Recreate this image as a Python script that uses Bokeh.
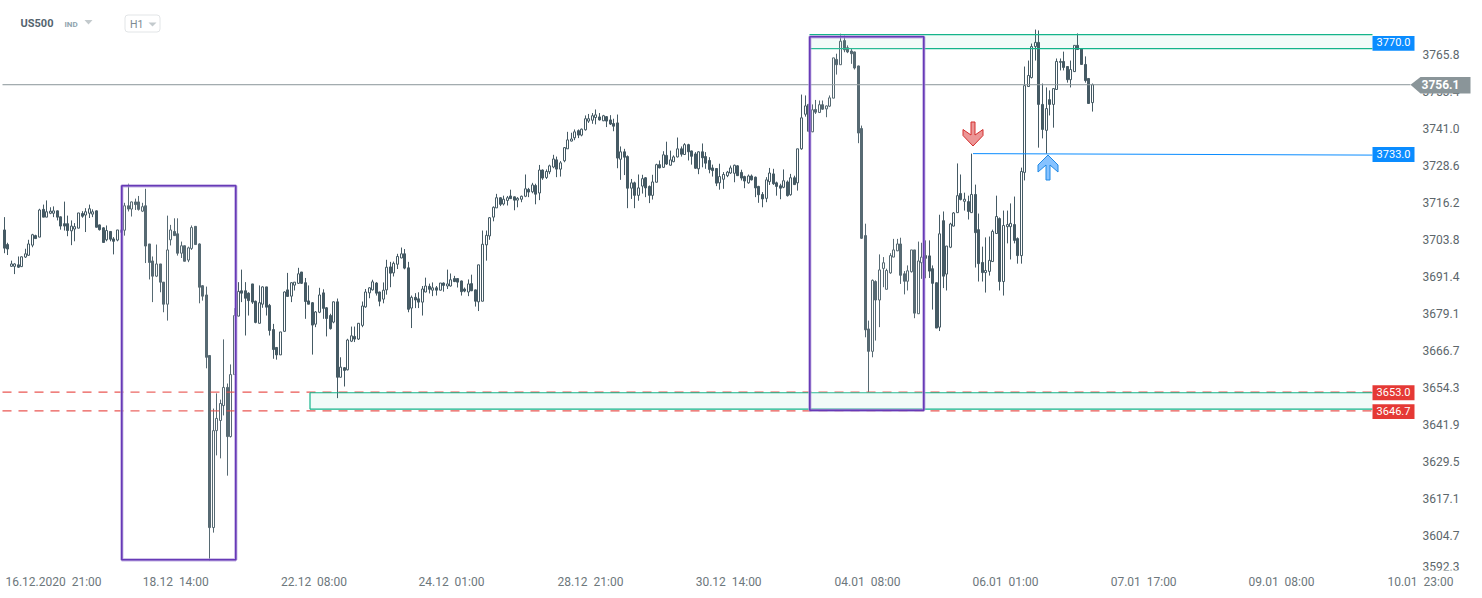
import numpy as np
from bokeh.core.properties import value
from bokeh.embed import file_html
from bokeh.models import BoxAnnotation, FixedTicker, LinearAxis, Range1d
from bokeh.plotting import figure
from bokeh.resources import INLINE

symbol = "US500"
symbol_kind = "IND"
timeframe = "H1"
last_price = 3756.1
level_labels = ["3770.0", "3733.0", "3653.0", "3646.7"]
y_tick_values = [3765.8, 3753.4, 3741.0, 3728.6, 3716.2, 3703.8, 3691.4, 3679.1, 3666.7,
                 3654.3, 3641.9, 3629.5, 3617.1, 3604.7]
x_tick_bars = [13.8, 48.3, 87.3, 126.1, 165.3, 204.3, 243.5, 282.4, 321.4, 360.3, 399.5]
x_tick_labels = ["16.12.2020\u00a0\u00a021:00", "18.12\u00a0\u00a014:00", "22.12\u00a0\u00a008:00", "24.12\u00a0\u00a001:00",
                 "28.12\u00a0\u00a021:00", "30.12\u00a0\u00a014:00", "04.01\u00a0\u00a008:00", "06.01\u00a0\u00a001:00",
                 "07.01\u00a0\u00a017:00", "09.01\u00a0\u00a008:00", "10.01\u00a0\u00a023:00"]

# F = falling (filled), H = rising (hollow)
direction = ("FFHHFHHHHF" "HFHHHFFFFH" "HHFHHHFFFH" "FFHFHFHFFH" "FFFHFFHHFF" "HFHHFFFFFH"
             "HHHFHHHFFF" "FFHHFFFFHH" "FHHHFFFFHH" "FFFHFHFHHF" "HHHHHFFHHF" "HHHFFHFFHH"
             "FHFHFHHFFF" "FHFFHHHHHH" "FHHFFHHHFH" "FHFHHHFHHH" "HHFHHHHHFH" "FFFFHFFHFH"
             "HFFHHFHFHH" "HFHFFFHFFF" "FFHHHHHFFF" "HFFFFHHFFF" "HFHFHHHFHF" "HFHHHFHFFF"
             "FFFFFHFHHH" "HHHFFHHFHH" "FFFFHFHHHH" "FHFHFFFHHH" "HFHHHFFHHH" "HHFFHFHHHF"
             "FHHFFFFH")

highs = [3711.7, 3703.1, 3697.1, 3696.2, 3698.5, 3698.5, 3701.1, 3704.1, 3706.1, 3705.8,
         3714.5, 3715.9, 3717.3, 3715.0, 3715.3, 3713.9, 3711.9, 3716.9, 3712.2, 3710.6,
         3709.7, 3713.1, 3713.7, 3714.7, 3715.9, 3714.3, 3713.9, 3709.2, 3708.3, 3708.9,
         3706.9, 3705.0, 3707.4, 3709.5, 3716.5, 3722.9, 3716.9, 3717.9, 3718.8, 3716.5,
         3721.2, 3702.7, 3698.5, 3702.5, 3696.0, 3689.9, 3712.2, 3709.1, 3711.3, 3711.3,
         3703.5, 3702.1, 3701.8, 3708.9, 3708.6, 3702.9, 3688.8, 3688.4, 3665.3, 3647.5,
         3652.6, 3650.5, 3670.7, 3655.9, 3662.3, 3681.2, 3689.9, 3694.1, 3689.9, 3686.5,
         3689.3, 3683.7, 3688.8, 3688.5, 3688.3, 3682.6, 3675.9, 3668.1, 3673.2, 3686.8,
         3693.0, 3689.9, 3689.9, 3694.7, 3693.3, 3691.3, 3688.8, 3683.2, 3680.2, 3688.0,
         3687.5, 3681.5, 3679.3, 3683.4, 3684.4, 3664.7, 3661.4, 3670.9, 3675.0, 3675.0,
         3676.2, 3683.4, 3687.6, 3688.2, 3690.7, 3689.9, 3686.7, 3689.8, 3697.4, 3696.7,
         3696.8, 3699.4, 3701.5, 3701.0, 3696.7, 3685.4, 3686.2, 3686.5, 3688.6, 3691.4,
         3689.4, 3689.8, 3688.6, 3689.6, 3689.8, 3694.1, 3692.8, 3692.0, 3691.2, 3690.4,
         3688.1, 3690.8, 3692.4, 3687.4, 3695.7, 3707.2, 3707.2, 3711.7, 3715.3, 3719.5,
         3718.3, 3718.9, 3718.8, 3720.9, 3718.6, 3718.4, 3718.9, 3726.0, 3721.5, 3723.2,
         3722.9, 3729.2, 3727.7, 3727.7, 3729.3, 3732.6, 3732.0, 3730.5, 3735.2, 3740.3,
         3740.0, 3741.1, 3741.1, 3741.4, 3745.8, 3746.3, 3746.6, 3747.8, 3746.6, 3746.0,
         3745.6, 3745.9, 3744.7, 3746.1, 3735.4, 3734.6, 3732.4, 3724.5, 3723.6, 3726.0,
         3725.9, 3725.1, 3722.3, 3725.9, 3729.6, 3730.7, 3733.8, 3737.0, 3734.0, 3732.4,
         3738.4, 3735.4, 3736.5, 3736.3, 3734.0, 3733.5, 3733.8, 3736.4, 3733.5, 3731.8,
         3729.3, 3728.1, 3729.6, 3726.8, 3727.2, 3729.0, 3729.3, 3729.1, 3727.6, 3725.6,
         3726.0, 3726.0, 3725.3, 3722.2, 3720.1, 3725.1, 3728.2, 3727.9, 3723.6, 3722.9,
         3727.7, 3724.0, 3726.2, 3725.6, 3734.6, 3752.8, 3752.5, 3749.7, 3749.5, 3751.0,
         3750.8, 3750.8, 3749.1, 3752.5, 3765.1, 3766.5, 3773.2, 3772.6, 3769.3, 3768.1,
         3767.2, 3762.5, 3742.4, 3709.5, 3677.0, 3690.8, 3690.5, 3699.2, 3698.3, 3694.4,
         3699.6, 3704.4, 3704.4, 3704.8, 3693.6, 3695.5, 3700.7, 3700.7, 3703.5, 3703.1,
         3703.9, 3703.9, 3695.5, 3689.7, 3712.5, 3713.6, 3702.0, 3709.8, 3713.4, 3729.7,
         3726.0, 3719.9, 3718.9, 3733.0, 3722.6, 3712.9, 3701.8, 3704.9, 3705.2, 3707.5,
         3718.9, 3711.6, 3713.9, 3713.9, 3716.3, 3718.6, 3704.9, 3728.3, 3762.2, 3764.2,
         3769.9, 3774.6, 3774.3, 3756.5, 3755.2, 3754.2, 3754.8, 3764.9, 3764.9, 3767.2,
         3762.2, 3764.2, 3769.3, 3773.3, 3768.2, 3765.6, 3758.2, 3756.5]

body_tops = [3707.4, 3702.5, 3696.0, 3696.0, 3695.7, 3698.4, 3699.4, 3702.7, 3705.8, 3705.5,
             3714.1, 3714.3, 3713.5, 3713.7, 3713.8, 3713.8, 3711.8, 3709.5, 3709.5, 3708.7,
             3708.5, 3713.1, 3712.9, 3713.5, 3714.5, 3713.5, 3713.8, 3709.1, 3708.1, 3707.2,
             3706.9, 3704.4, 3707.4, 3707.4, 3715.5, 3715.5, 3716.8, 3716.8, 3716.8, 3715.2,
             3715.5, 3702.7, 3697.0, 3696.0, 3696.0, 3689.9, 3700.7, 3707.4, 3706.9, 3706.1,
             3702.1, 3702.1, 3701.4, 3708.2, 3708.6, 3702.7, 3688.7, 3685.6, 3665.3, 3640.1,
             3644.2, 3649.2, 3654.6, 3654.6, 3658.9, 3678.7, 3686.8, 3687.0, 3687.0, 3686.2,
             3689.3, 3683.5, 3683.0, 3688.3, 3688.3, 3682.1, 3674.0, 3668.0, 3673.2, 3686.6,
             3687.3, 3689.7, 3689.9, 3692.7, 3693.3, 3689.7, 3683.6, 3683.0, 3679.9, 3685.6,
             3686.3, 3681.3, 3678.7, 3683.3, 3683.3, 3661.4, 3661.2, 3670.5, 3671.9, 3671.7,
             3676.1, 3681.9, 3686.6, 3688.0, 3690.0, 3689.6, 3686.6, 3687.2, 3694.9, 3695.0,
             3696.2, 3698.5, 3699.4, 3699.4, 3694.7, 3684.8, 3684.8, 3684.3, 3687.6, 3688.6,
             3688.5, 3688.0, 3688.0, 3689.6, 3689.6, 3689.3, 3690.7, 3691.1, 3691.1, 3690.3,
             3687.6, 3689.3, 3689.4, 3687.3, 3695.7, 3702.6, 3705.6, 3711.5, 3715.0, 3718.2,
             3718.2, 3717.7, 3718.2, 3718.8, 3718.5, 3718.0, 3718.7, 3721.2, 3721.0, 3722.5,
             3722.3, 3727.5, 3727.5, 3727.0, 3728.9, 3731.2, 3730.9, 3729.9, 3735.0, 3737.6,
             3737.9, 3740.3, 3740.7, 3741.2, 3744.7, 3744.7, 3745.7, 3746.0, 3745.3, 3745.7,
             3745.4, 3744.3, 3743.1, 3743.3, 3733.6, 3733.6, 3732.0, 3723.2, 3723.2, 3721.5,
             3724.6, 3724.9, 3722.0, 3723.5, 3729.3, 3729.3, 3732.6, 3732.4, 3730.9, 3731.9,
             3734.6, 3734.6, 3736.0, 3736.0, 3733.9, 3732.9, 3733.6, 3733.6, 3732.0, 3730.7,
             3728.2, 3728.0, 3725.3, 3726.0, 3726.8, 3728.2, 3729.1, 3728.9, 3726.7, 3725.3,
             3725.5, 3725.5, 3725.1, 3722.0, 3719.3, 3724.2, 3726.5, 3726.2, 3723.2, 3722.2,
             3723.9, 3723.5, 3724.9, 3724.9, 3734.6, 3745.0, 3749.0, 3749.5, 3747.7, 3747.8,
             3749.4, 3749.4, 3749.0, 3751.7, 3765.1, 3764.6, 3770.7, 3770.9, 3768.5, 3767.4,
             3767.1, 3762.4, 3741.4, 3705.5, 3674.2, 3690.5, 3690.1, 3694.0, 3696.4, 3693.8,
             3698.8, 3700.7, 3702.7, 3702.7, 3692.7, 3693.7, 3700.7, 3700.7, 3697.0, 3698.3,
             3698.8, 3698.7, 3694.4, 3689.7, 3706.1, 3710.5, 3702.0, 3709.4, 3713.1, 3718.9,
             3719.6, 3717.7, 3716.9, 3719.3, 3719.3, 3707.5, 3696.5, 3693.8, 3697.2, 3706.9,
             3711.9, 3711.2, 3708.9, 3709.2, 3709.6, 3709.2, 3704.5, 3727.0, 3755.8, 3759.2,
             3768.9, 3770.3, 3770.3, 3749.5, 3748.1, 3751.1, 3754.8, 3763.9, 3763.9, 3763.9,
             3762.2, 3761.2, 3769.3, 3769.3, 3768.2, 3762.9, 3758.2, 3756.1]

body_bottoms = [3701.3, 3701.0, 3695.2, 3695.2, 3694.9, 3695.1, 3698.3, 3698.9, 3702.3, 3704.5,
                3705.0, 3711.7, 3711.7, 3713.0, 3713.0, 3711.7, 3708.7, 3708.7, 3707.2, 3707.1,
                3707.7, 3708.0, 3712.0, 3712.4, 3713.0, 3712.7, 3708.3, 3707.5, 3703.2, 3704.1,
                3704.3, 3703.6, 3704.0, 3706.6, 3707.3, 3714.4, 3714.4, 3715.9, 3714.3, 3713.7,
                3702.0, 3696.5, 3691.9, 3691.9, 3689.9, 3682.5, 3682.5, 3704.1, 3705.5, 3699.6,
                3699.6, 3696.9, 3697.3, 3701.2, 3702.5, 3688.2, 3685.2, 3664.7, 3607.6, 3607.6,
                3640.1, 3643.5, 3648.5, 3638.1, 3638.1, 3658.9, 3678.5, 3686.2, 3684.5, 3683.7,
                3683.2, 3676.4, 3676.1, 3682.5, 3681.5, 3673.7, 3667.3, 3665.5, 3665.5, 3673.4,
                3685.1, 3685.2, 3688.9, 3689.5, 3689.5, 3683.4, 3682.5, 3675.5, 3675.8, 3679.8,
                3681.1, 3677.7, 3674.3, 3676.5, 3658.0, 3658.0, 3660.3, 3660.5, 3670.1, 3670.8,
                3670.8, 3675.4, 3681.6, 3686.3, 3687.3, 3686.2, 3683.5, 3684.2, 3687.3, 3692.9,
                3693.0, 3695.9, 3698.0, 3694.6, 3680.8, 3681.2, 3683.9, 3683.2, 3683.2, 3686.6,
                3687.5, 3687.2, 3687.2, 3687.2, 3688.8, 3688.6, 3688.6, 3690.1, 3689.9, 3686.7,
                3686.9, 3686.6, 3687.0, 3683.5, 3683.3, 3683.5, 3702.4, 3705.4, 3711.7, 3714.8,
                3716.0, 3716.1, 3717.3, 3717.9, 3717.4, 3717.4, 3717.7, 3718.7, 3720.1, 3720.2,
                3719.4, 3719.8, 3724.8, 3725.0, 3726.9, 3728.5, 3727.8, 3727.8, 3730.6, 3734.6,
                3737.2, 3738.3, 3739.2, 3739.2, 3741.0, 3743.9, 3744.2, 3745.1, 3744.3, 3744.0,
                3743.9, 3742.9, 3742.2, 3731.5, 3731.1, 3731.8, 3721.4, 3721.4, 3719.0, 3719.0,
                3722.1, 3721.5, 3719.0, 3719.0, 3723.4, 3728.2, 3728.4, 3729.5, 3729.1, 3730.3,
                3731.9, 3732.8, 3732.7, 3733.6, 3732.1, 3728.1, 3727.9, 3731.6, 3729.8, 3727.7,
                3727.3, 3723.1, 3723.2, 3724.4, 3725.6, 3726.5, 3726.4, 3725.6, 3724.8, 3723.8,
                3723.2, 3724.2, 3721.5, 3719.2, 3717.8, 3718.0, 3723.6, 3722.9, 3722.0, 3721.4,
                3721.7, 3718.9, 3719.2, 3722.6, 3723.2, 3734.6, 3746.2, 3740.5, 3740.3, 3746.9,
                3746.8, 3747.9, 3748.0, 3748.9, 3751.6, 3762.8, 3762.8, 3767.8, 3767.1, 3766.5,
                3761.7, 3739.9, 3704.6, 3673.9, 3666.7, 3666.7, 3683.9, 3683.9, 3694.5, 3687.5,
                3693.0, 3698.3, 3700.4, 3692.2, 3690.2, 3690.2, 3693.4, 3679.5, 3679.3, 3696.4,
                3697.9, 3693.6, 3689.5, 3674.5, 3674.8, 3691.9, 3692.6, 3701.6, 3708.7, 3713.2,
                3717.6, 3717.0, 3713.6, 3713.2, 3706.5, 3696.1, 3693.1, 3693.1, 3693.5, 3696.8,
                3706.2, 3690.1, 3690.1, 3708.5, 3708.5, 3703.9, 3698.8, 3698.8, 3726.7, 3755.5,
                3758.5, 3768.9, 3749.5, 3741.1, 3740.8, 3749.5, 3749.5, 3754.5, 3763.6, 3761.9,
                3757.8, 3757.8, 3760.5, 3767.9, 3762.9, 3757.5, 3749.8, 3750.1]

lows = [3699.6, 3699.0, 3695.1, 3692.6, 3694.7, 3695.1, 3698.0, 3698.8, 3701.6, 3704.5,
        3705.0, 3711.7, 3711.7, 3712.7, 3711.7, 3710.6, 3707.5, 3707.2, 3705.3, 3702.3,
        3703.6, 3708.0, 3711.5, 3706.7, 3711.4, 3711.7, 3708.3, 3707.2, 3703.2, 3703.6,
        3703.6, 3699.2, 3703.6, 3705.5, 3705.5, 3713.6, 3711.9, 3714.1, 3713.9, 3713.4,
        3696.3, 3690.8, 3683.2, 3691.6, 3686.5, 3679.8, 3677.0, 3702.2, 3705.5, 3698.8,
        3698.0, 3696.9, 3696.6, 3700.7, 3702.5, 3682.8, 3683.7, 3661.0, 3596.5, 3605.9,
        3631.8, 3630.8, 3645.2, 3625.0, 3637.8, 3658.9, 3678.5, 3683.2, 3672.0, 3678.7,
        3682.6, 3676.1, 3676.1, 3681.3, 3678.7, 3672.0, 3664.2, 3663.9, 3665.5, 3673.4,
        3685.1, 3683.2, 3687.1, 3689.3, 3689.3, 3677.6, 3682.5, 3665.6, 3674.8, 3679.5,
        3677.6, 3671.7, 3674.0, 3676.1, 3651.0, 3658.0, 3654.9, 3660.3, 3669.8, 3669.8,
        3670.5, 3674.8, 3681.3, 3684.5, 3687.1, 3685.4, 3681.8, 3682.8, 3685.7, 3688.2,
        3691.8, 3694.3, 3697.9, 3694.2, 3679.8, 3674.5, 3681.2, 3681.2, 3678.7, 3686.5,
        3686.1, 3685.2, 3685.4, 3687.1, 3686.7, 3687.6, 3688.4, 3689.9, 3688.1, 3685.4,
        3686.5, 3685.2, 3686.9, 3681.7, 3680.2, 3683.5, 3697.1, 3704.1, 3710.3, 3714.8,
        3715.4, 3715.6, 3715.6, 3717.8, 3714.0, 3715.0, 3716.7, 3718.4, 3718.4, 3719.7,
        3716.0, 3717.4, 3724.2, 3724.5, 3726.1, 3728.1, 3725.1, 3725.3, 3730.1, 3734.6,
        3737.1, 3737.5, 3738.2, 3738.8, 3740.7, 3743.3, 3743.0, 3742.8, 3744.1, 3743.9,
        3741.9, 3742.6, 3740.5, 3728.1, 3724.2, 3725.8, 3714.7, 3717.8, 3714.7, 3717.2,
        3719.6, 3718.4, 3716.4, 3717.6, 3723.4, 3728.1, 3728.2, 3729.2, 3729.0, 3730.1,
        3731.7, 3732.0, 3732.6, 3730.7, 3729.3, 3727.9, 3726.1, 3728.4, 3727.9, 3726.4,
        3725.3, 3722.1, 3720.9, 3721.2, 3725.1, 3726.2, 3723.4, 3725.6, 3724.0, 3721.4,
        3722.9, 3724.0, 3718.4, 3716.5, 3715.0, 3716.7, 3722.5, 3722.5, 3718.9, 3717.7,
        3721.4, 3718.6, 3718.9, 3722.6, 3720.6, 3734.3, 3745.4, 3740.2, 3740.2, 3746.3,
        3746.6, 3747.7, 3745.2, 3748.6, 3751.6, 3759.5, 3762.8, 3767.0, 3766.7, 3763.1,
        3761.2, 3736.5, 3704.4, 3671.4, 3653.0, 3664.7, 3670.3, 3674.8, 3688.2, 3687.5,
        3692.7, 3698.3, 3700.3, 3689.3, 3685.8, 3687.1, 3693.1, 3677.8, 3679.3, 3691.0,
        3691.2, 3691.3, 3680.7, 3674.5, 3673.5, 3687.9, 3687.1, 3701.3, 3708.6, 3713.2,
        3717.3, 3713.9, 3710.9, 3713.2, 3694.8, 3690.1, 3690.1, 3686.4, 3692.1, 3696.8,
        3706.2, 3687.1, 3685.4, 3702.9, 3697.5, 3702.9, 3696.1, 3696.1, 3724.0, 3755.5,
        3758.2, 3764.2, 3735.0, 3738.1, 3733.0, 3745.8, 3741.7, 3754.5, 3760.9, 3760.9,
        3756.8, 3755.2, 3760.5, 3767.9, 3762.9, 3756.8, 3749.8, 3747.1]

# ---------- layout of the reference (pixels on the page) ----------
PAGE_W, PAGE_H = 1482, 598
FRAME_R, FRAME_B, AXIS_AT = 1474, 570, 1421
BAR_PX, BAR_X0 = 3.544, 4.1
PRICE_TOP, PX_PER_PRICE = 3784.345, 2.982


def ix(px):
    return (px - BAR_X0) / BAR_PX


def iy(px):
    return PRICE_TOP - px / PX_PER_PRICE


n = len(highs)
# bars land on whole pixel columns, as they do in the reference
bar_x = ix(np.floor(BAR_X0 + BAR_PX * np.arange(n)))
rising = np.array([d == "H" for d in direction])
tops, bottoms, hi, lo = map(np.array, (body_tops, body_bottoms, highs, lows))
opens = np.where(rising, bottoms, tops)
closes = np.where(rising, tops, bottoms)

CANDLE = "#455a64"
GREEN = "#14b48a"
RED = "#e53935"
BLUE = "#0a8cff"
GREY = "#8a9599"
PURPLE = "#673ab7"
AXIS_TEXT = "#5c666b"

p = figure(width=PAGE_W, height=PAGE_H, output_backend="svg", toolbar_location=None,
           x_range=Range1d(ix(0), ix(FRAME_R)), y_range=Range1d(iy(FRAME_B), iy(0)),
           min_border_left=0, min_border_top=0, min_border_right=PAGE_W - FRAME_R,
           min_border_bottom=PAGE_H - FRAME_B, x_axis_location=None, y_axis_location=None,
           background_fill_color="white", border_fill_color="white", outline_line_color=None)
p.grid.visible = False

# ---------- axes ----------
x_axis = LinearAxis(ticker=FixedTicker(ticks=x_tick_bars),
                    major_label_overrides=dict(zip(x_tick_bars, x_tick_labels)))
x_axis.axis_line_color = None
x_axis.major_tick_line_color = None
x_axis.minor_tick_line_color = None
x_axis.major_tick_out = 0
x_axis.major_label_standoff = 4
x_axis.major_label_text_font = "Roboto"
x_axis.major_label_text_font_size = "12px"
x_axis.major_label_text_color = "#6d777c"
p.add_layout(x_axis, "below")

# the reference prints its price labels one pixel above their levels
label_lift = 1 / PX_PER_PRICE
y_ticks = [round(v + label_lift, 2) for v in y_tick_values]
clamped_tick = round(float(iy(566)), 2)
y_axis = LinearAxis(ticker=FixedTicker(ticks=y_ticks + [clamped_tick]), fixed_location=float(ix(AXIS_AT)),
                    major_label_overrides={**{t: f"{v:.1f}" for t, v in zip(y_ticks, y_tick_values)},
                                           clamped_tick: "3592.3"})
y_axis.axis_line_color = None
y_axis.major_tick_line_color = None
y_axis.minor_tick_line_color = None
y_axis.major_tick_out = 0
y_axis.major_label_standoff = 1
y_axis.major_label_text_font = "Roboto"
y_axis.major_label_text_font_size = "12px"
y_axis.major_label_text_color = AXIS_TEXT
p.add_layout(y_axis, "right")

# ---------- candles ----------
body_w = 2 / BAR_PX
p.segment(bar_x, hi, bar_x, lo, line_color=CANDLE, line_width=1)
p.vbar(bar_x[~rising], body_w, closes[~rising], opens[~rising], fill_color=CANDLE, line_color=CANDLE, line_width=1)
p.vbar(bar_x[rising], body_w, closes[rising], opens[rising], fill_color="white", line_color=CANDLE, line_width=1)

# ---------- drawing objects ----------
lvl_r = ix(1372)
# red dashed supports
for lvl in (3653.0, 3646.7):
    p.segment(ix(2), lvl, lvl_r, lvl, line_color=RED, line_width=1.2, line_dash="9 7", line_alpha=0.85)
# green zones
p.quad(left=ix(809), right=lvl_r, top=3772.9, bottom=3768.2, fill_color=GREEN, fill_alpha=0.06, line_color=None)
p.segment([ix(809)] * 2, [3772.9, 3768.2], [lvl_r] * 2, [3772.9, 3768.2], line_color=GREEN, line_width=1.2)
p.quad(left=ix(309.5), right=lvl_r, top=3652.8, bottom=3647.3, fill_color=GREEN, fill_alpha=0.06, line_color=None)
p.segment([ix(309.5)] * 3, [3652.8, 3647.3, 3652.8], [lvl_r, lvl_r, ix(309.5)], [3652.8, 3647.3, 3647.3],
          line_color=GREEN, line_width=1.2)
# last price line and resistance line
p.segment(ix(2), last_price, ix(1410), last_price, line_color=GREY, line_width=1)
p.segment(ix(972.5), 3733.0, lvl_r, 3732.5, line_color=BLUE, line_width=1)

# arrows
down_arrow_x = [970.5, 970.5, 962.5, 962.5, 972.5, 982.5, 982.5, 974.5, 974.5]
down_arrow_y = [121.5, 134.5, 129, 135, 145.5, 135, 129, 134.5, 121.5]
p.patch(ix(np.array(down_arrow_x)), iy(np.array(down_arrow_y)), fill_color="#e57373", fill_alpha=0.75,
        line_color="#d32f2f", line_width=1)
up_arrow_x = [1045.5, 1045.5, 1037.5, 1037.5, 1047.5, 1057.5, 1057.5, 1049.5, 1049.5]
up_arrow_y = [179.5, 164.5, 171.5, 164.5, 154.5, 164.5, 171.5, 164.5, 179.5]
p.patch(ix(np.array(up_arrow_x)), iy(np.array(up_arrow_y)), fill_color="#7fbfff", fill_alpha=0.95,
        line_color="#1e88e5", line_width=1)

# purple boxes
for l, r, t, b in ((121.3, 235.3, 185.3, 559.3), (809.3, 923.3, 36.3, 409.8)):
    p.quad(left=ix(l), right=ix(r), top=iy(t), bottom=iy(b), fill_color="white", fill_alpha=0.1,
           line_color="#b39ddb", line_width=3.2, line_alpha=0.8)
    p.quad(left=ix(l), right=ix(r), top=iy(t), bottom=iy(b), fill_color=None,
           line_color=PURPLE, line_width=1.6)

# level tags
tag_colors = [BLUE, BLUE, RED, RED]
tag_prices = [3770.0, 3732.7, 3652.8, 3646.5]
tag_half = 7.4 / PX_PER_PRICE
p.quad(left=lvl_r, right=ix(1414), top=[v + tag_half for v in tag_prices],
       bottom=[v - tag_half for v in tag_prices], fill_color=tag_colors, line_color=None)
p.text(x=[ix(1393)] * 4, y=[v + label_lift for v in tag_prices], text=level_labels, text_color="white",
       text_font=value("Roboto"), text_font_size="11px", text_align="center", text_baseline="middle")

# last price tag
p.patch(ix(np.array([1410, 1420, 1470, 1470, 1420])),
        [last_price, iy(76.5), iy(76.5), iy(93), iy(93)], fill_color=GREY, line_color=None, level="overlay")
p.text(x=[ix(1440)], y=[last_price], text=[f"{last_price:.1f}"], text_color="white",
       text_font=value("Roboto"), text_font_size="12px", text_font_style="bold",
       text_align="center", text_baseline="middle", level="overlay")

# header
p.text(x=[ix(20)], y=[iy(23)], text=[symbol], text_color="#54646e", text_font=value("Roboto"),
       text_font_size="11px", text_font_style="bold", text_baseline="middle")
p.text(x=[ix(64)], y=[iy(24)], text=[symbol_kind], text_color="#90a4ae", text_font=value("Roboto"),
       text_font_size="8px", text_font_style="bold", text_baseline="middle")
p.patch(ix(np.array([84, 92, 88])), iy(np.array([19.5, 19.5, 24])), fill_color="#c3cacd", line_color=None)
p.add_layout(BoxAnnotation(left=float(ix(124.5)), right=float(ix(159.5)), top=float(iy(14.5)), bottom=float(iy(31.5)),
                           fill_color="white", fill_alpha=1, line_color="#e2e5e7", line_alpha=1, line_width=1,
                           border_radius=3, level="underlay"))
p.text(x=[ix(129.5)], y=[iy(23.5)], text=[timeframe], text_color="#7c8a92", text_font=value("Roboto"),
       text_font_size="10.5px", text_baseline="middle")
p.patch(ix(np.array([148, 156, 152])), iy(np.array([22, 22, 26])), fill_color="#c3cacd", line_color=None)

open("out.html", "w").write(file_html(p, INLINE))
